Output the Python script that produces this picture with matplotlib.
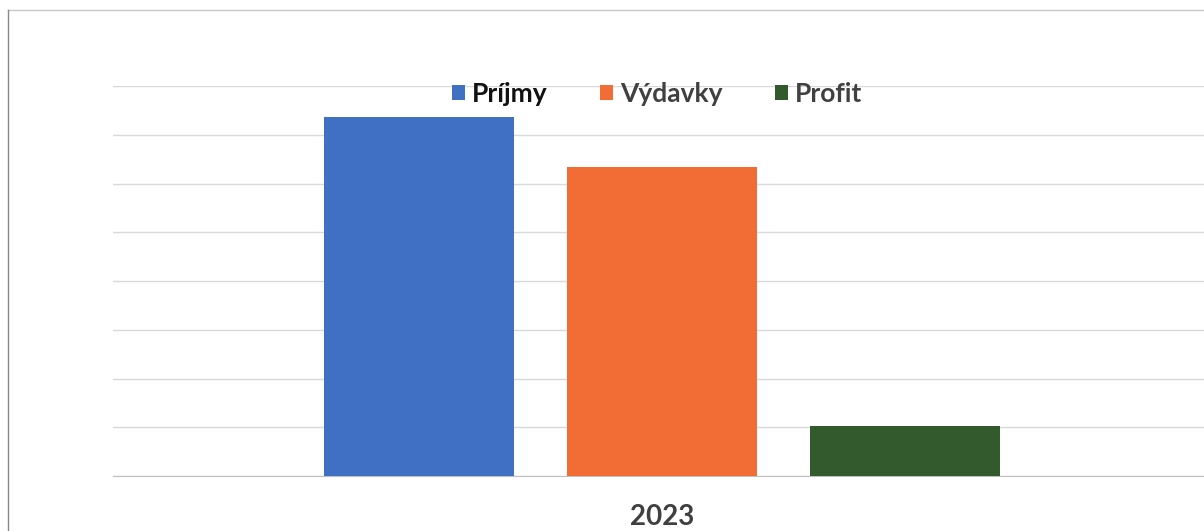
import matplotlib
matplotlib.use('Agg')
from matplotlib import pyplot as plt
from matplotlib.patches import Patch
from matplotlib.lines import Line2D

years = ['2023']
series = ['Príjmy', 'Výdavky', 'Profit']
values = [7.36, 6.34, 1.02]
colors = ['#3f70c4', '#f26c35', '#335a2c']

plt.rcParams['font.family'] = ['Lato', 'DejaVu Sans']

fig = plt.figure(figsize=(12.04, 5.31), dpi=100)
ax = fig.add_axes([113/1204, 55/531, 1098/1204, 390/531])

offsets = [-0.221, 0.0, 0.221]
width = 0.173
for i in range(len(series)):
    ax.bar(0 + offsets[i], values[i], width, color=colors[i], label=series[i], zorder=3)

ax.set_xlim(-0.5, 0.5)
ax.set_ylim(0, 8)
ax.set_yticks(range(0, 9))
ax.yaxis.grid(True, color='#d9d9d9', linewidth=1, zorder=0)
ax.tick_params(axis='y', left=False, labelleft=False)
ax.set_xticks([0])
ax.set_xticklabels(years, fontsize=20, fontweight='bold', color='#404040')
ax.tick_params(axis='x', bottom=False, pad=17)
for s in ['top', 'right', 'left']:
    ax.spines[s].set_visible(False)
ax.spines['bottom'].set_color('#bfbfbf')

handles = [Patch(facecolor=c) for c in colors]
leg = fig.legend(handles, series, loc='center', bbox_to_anchor=(657/1204, 437/531), ncol=3,
                 frameon=False, handlelength=0.5, handleheight=0.5, handletextpad=0.25,
                 columnspacing=2.0, prop={'size': 19, 'weight': 'bold'})
for t, c in zip(leg.get_texts(), ['#111111', '#404040', '#404040']):
    t.set_color(c)

# scan frame edges
fig.add_artist(Line2D([8/1204, 1], [1 - 10/531, 1 - 10/531], color='#c8c8c8', linewidth=1))
fig.add_artist(Line2D([8/1204, 8/1204], [0, 1 - 10/531], color='#888888', linewidth=1))

fig.savefig('out.png', dpi=100)
